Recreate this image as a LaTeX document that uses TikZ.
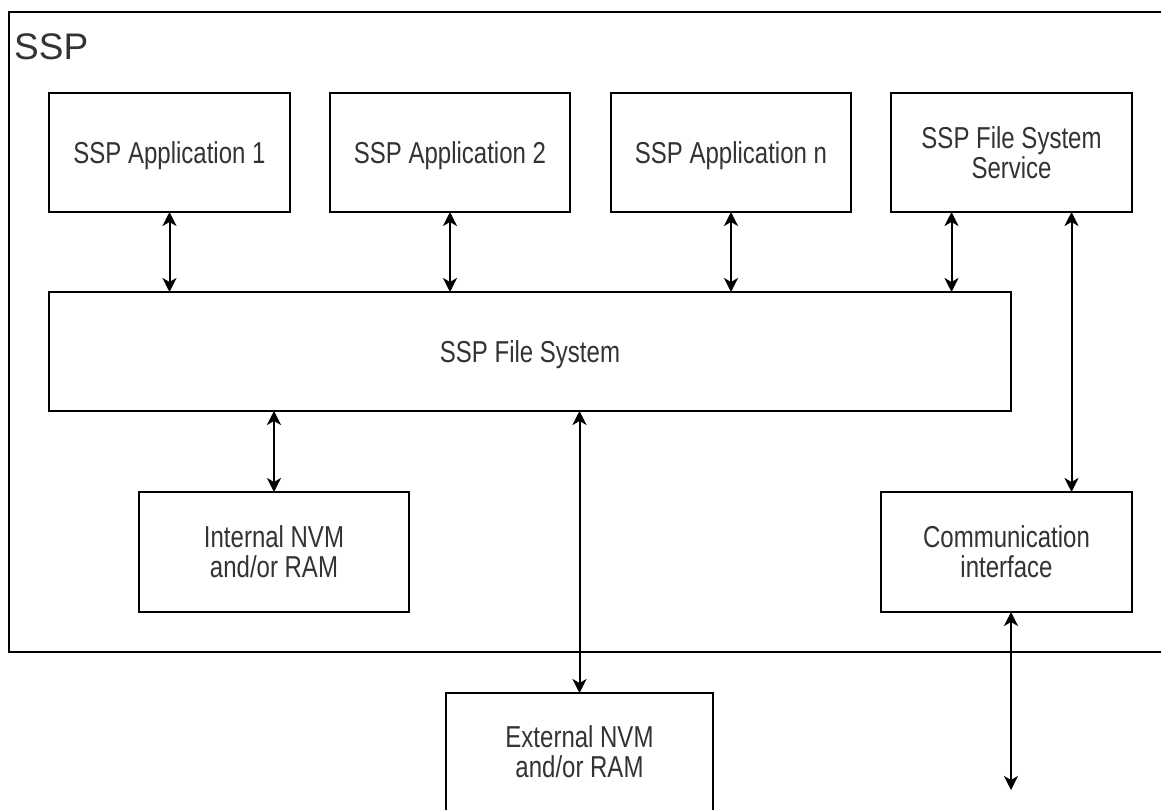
\documentclass[tikz,border=0pt]{standalone}
\usepackage{fontspec}
\setmainfont{Liberation Sans}
\usepackage{graphicx}
\usetikzlibrary{arrows.meta,calc}
\definecolor{txt}{HTML}{333333}
\newcommand{\tx}[1]{\raisebox{-4pt}[\height][\depth]{\scalebox{1}[1.26]{\begin{tabular}{@{}c@{}}#1\end{tabular}}}}
\begin{document}
\begin{tikzpicture}[x=1pt,y=-1pt,
  blk/.style={draw=black,line width=1.8pt,rectangle,inner sep=0pt,outer sep=0pt,
    text=txt,font=\fontsize{24}{21.4}\selectfont},
  biarrow/.style={line width=2pt,{Stealth[length=14pt,width=14pt,inset=4pt]}-{Stealth[length=14pt,width=14pt,inset=4pt]}}
]
\useasboundingbox (0,0) rectangle (1161,810);
\clip (0,0) rectangle (1161,810);
\fill[white] (0,0) rectangle (1161,810);
% outer SSP container
\node[draw=black,line width=1.8pt,rectangle,inner sep=0pt,outer sep=0pt,
  minimum width=1180pt,minimum height=640pt,anchor=north west] (ssp) at (9,12) {};
\node[anchor=base west,inner sep=0pt,text=txt,font=\fontsize{37}{40}\selectfont] (ssplbl) at (14,60) {SSP};
% blocks
\node[blk,minimum width=241pt,minimum height=119pt] (a1) at (169.5,152.5) {\tx{SSP Application 1}};
\node[blk,minimum width=240pt,minimum height=119pt] (a2) at (450,152.5) {\tx{SSP Application 2}};
\node[blk,minimum width=240pt,minimum height=119pt] (an) at (731,152.5) {\tx{SSP Application n}};
\node[blk,minimum width=241pt,minimum height=119pt] (fss) at (1011.5,152.5) {\tx{SSP File System\\Service}};
\node[blk,minimum width=962pt,minimum height=119pt] (fs) at (530,351.5) {\tx{SSP File System}};
\node[blk,minimum width=270pt,minimum height=120pt] (int) at (274,552) {\tx{Internal NVM\\and/or RAM}};
\node[blk,minimum width=251pt,minimum height=120pt] (comm) at (1006.5,552) {\tx{Communication\\interface}};
\node[blk,minimum width=267pt,minimum height=150pt,anchor=north] (ext) at (579.5,693) {};
\node[text=txt,font=\fontsize{24}{21.4}\selectfont,inner sep=0pt] (extlbl) at (579.5,752) {\tx{External NVM\\and/or RAM}};
% connector anchors
\coordinate (fssl) at ($(fss.south)+(-60,0)$);
\coordinate (fssr) at ($(fss.south)+(60,0)$);
% connectors
\draw[biarrow] (a1.south) -- (a1.south |- fs.north);
\draw[biarrow] (a2.south) -- (a2.south |- fs.north);
\draw[biarrow] (an.south) -- (an.south |- fs.north);
\draw[biarrow] (fssl) -- (fssl |- fs.north);
\draw[biarrow] (fssr) -- (fssr |- comm.north);
\draw[biarrow] (fs.south -| int.north) -- (int.north);
\draw[biarrow] (fs.south -| ext.north) -- (ext.north);
\coordinate (cend) at (1011,790);
\draw[biarrow] (comm.south -| cend) -- (cend);
\end{tikzpicture}
\end{document}
